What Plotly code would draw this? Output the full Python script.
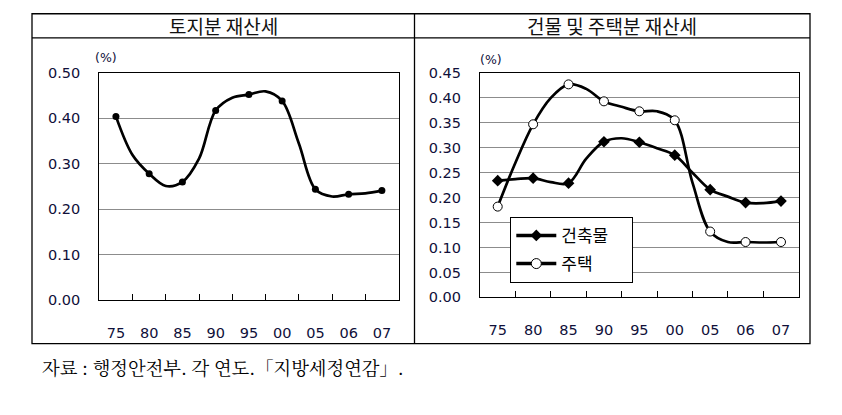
import plotly.graph_objects as go

# ---------------- data ----------------
categories = ['75', '80', '85', '90', '95', '00', '05', '06', '07']

# 토지분 재산세 (marked points at each category, smoothing points between them)
land_values = [0.404, 0.278, 0.260, 0.417, 0.452, 0.438, 0.244, 0.233, 0.241]
land_between = [0.319, 0.251, 0.311, 0.445, 0.459, 0.345, 0.228, 0.235]

# 건물 및 주택분 재산세
building_values = [0.234, 0.239, 0.229, 0.312, 0.311, 0.285, 0.216, 0.190, 0.193]
building_between = [0.237, 0.231, 0.278, 0.319, 0.299, 0.250, 0.202, 0.189]
house_values = [0.182, 0.347, 0.427, 0.393, 0.373, 0.355, 0.132, 0.111, 0.111]
house_between = [0.270, 0.400, 0.418, 0.382, 0.373, 0.230, 0.111, 0.110]

left_title = '토지분 재산세'
right_title = '건물 및 주택분 재산세'
series_names = ['건축물', '주택']
unit_label = '(%)'
source_note = '자료 : 행정안전부. 각 연도.「지방세정연감」.'

# ---------------- helpers ----------------
W, H = 842, 415
def px(x):
    return x / W
def py(y):
    return 1 - y / H

def smooth_xy(vals, mids):
    xs, ys = [], []
    for i, v in enumerate(vals):
        xs.append(i); ys.append(v)
        if i < len(mids):
            xs.append(i + 0.5); ys.append(mids[i])
    return xs, ys

idx = list(range(len(categories)))
bounds = [i + 0.5 for i in range(len(categories) - 1)]

TICK_FONT = dict(family='DejaVu Sans', size=14.5, color='#10103a')
KFONT = 'Noto Sans CJK KR'
LW = 2.7
PAD = '\u00a0' * 5  # widens the legend box

fig = go.Figure()

# left panel
lx, ly = smooth_xy(land_values, land_between)
fig.add_trace(go.Scatter(x=lx, y=ly, mode='lines', line=dict(color='black', width=LW, shape='spline', smoothing=1.0),
                         xaxis='x', yaxis='y', showlegend=False, hoverinfo='skip'))
fig.add_trace(go.Scatter(x=idx, y=land_values, mode='markers', marker=dict(symbol='circle', size=7, color='black'),
                         xaxis='x', yaxis='y', showlegend=False))

# right panel
bx, by = smooth_xy(building_values, building_between)
hx, hy = smooth_xy(house_values, house_between)
fig.add_trace(go.Scatter(x=hx, y=hy, mode='lines', line=dict(color='black', width=LW, shape='spline', smoothing=1.0),
                         xaxis='x2', yaxis='y2', showlegend=False, hoverinfo='skip'))
fig.add_trace(go.Scatter(x=bx, y=by, mode='lines', line=dict(color='black', width=LW, shape='spline', smoothing=1.0),
                         xaxis='x2', yaxis='y2', showlegend=False, hoverinfo='skip'))
fig.add_trace(go.Scatter(x=idx, y=building_values, mode='markers',
                         marker=dict(symbol='diamond', size=9, color='black'),
                         xaxis='x2', yaxis='y2', showlegend=False))
fig.add_trace(go.Scatter(x=idx, y=house_values, mode='markers',
                         marker=dict(symbol='circle', size=9, color='white', line=dict(color='black', width=1)),
                         xaxis='x2', yaxis='y2', showlegend=False))
# legend entries
fig.add_trace(go.Scatter(x=[None], y=[None], mode='lines+markers', name=series_names[0] + PAD, legendgroup='a',
                         line=dict(color='black', width=3.5), marker=dict(symbol='diamond', size=9, color='black'),
                         xaxis='x2', yaxis='y2'))
fig.add_trace(go.Scatter(x=[None], y=[None], mode='lines+markers', name=series_names[1], legendgroup='b',
                         line=dict(color='black', width=3.5),
                         marker=dict(symbol='circle', size=10, color='white', line=dict(color='black', width=1)),
                         xaxis='x2', yaxis='y2'))

# label-only overlay axes (data-free)
fig.add_trace(go.Scatter(x=[None], y=[None], xaxis='x3', yaxis='y', showlegend=False))
fig.add_trace(go.Scatter(x=[None], y=[None], xaxis='x4', yaxis='y2', showlegend=False))

xl = [px(99.3), px(398.5)]
xr = [px(480.0), px(798.7)]
yl = [py(304.0), py(67.3)]
yr = [py(301.0), py(67.5)]

base_x = dict(range=[-0.5, len(categories) - 0.5], tickmode='array', tickvals=bounds, ticks='inside', ticklen=6,
              tickcolor='black', showticklabels=False, showgrid=False, zeroline=False,
              showline=True, linecolor='black', linewidth=1.2, mirror=True, fixedrange=True)
label_x = dict(range=[-0.5, len(categories) - 0.5], tickmode='array', tickvals=idx, ticktext=categories,
               ticks='', showgrid=False, zeroline=False, showline=False, tickfont=TICK_FONT,
               ticklabelstandoff=22, fixedrange=True)
base_y = dict(tickformat='.2f', showgrid=True, gridcolor='#8c8c8c', gridwidth=1, zeroline=False,
              showline=True, linecolor='black', linewidth=1.2, mirror=True, ticks='', tickfont=TICK_FONT,
              ticklabelstandoff=15, fixedrange=True)

fig.update_layout(
    width=W, height=H, margin=dict(l=0, r=0, t=0, b=0),
    paper_bgcolor='white', plot_bgcolor='white',
    xaxis=dict(base_x, domain=xl, anchor='y'),
    xaxis3=dict(label_x, overlaying='x', anchor='y'),
    yaxis=dict(base_y, domain=yl, range=[0, 0.5], dtick=0.1, anchor='x'),
    xaxis2=dict(base_x, domain=xr, anchor='y2'),
    xaxis4=dict(label_x, overlaying='x2', anchor='y2'),
    yaxis2=dict(base_y, domain=yr, range=[0, 0.45], dtick=0.05, anchor='x2'),
    showlegend=True,
    legend=dict(x=px(510.3), y=py(217.3), xanchor='left', yanchor='top', bgcolor='white',
                bordercolor='black', borderwidth=1, traceorder='grouped', tracegroupgap=3,
                font=dict(family=KFONT, size=17, color='black'), itemwidth=40),
)

# outer frame
frame = dict(type='line', xref='paper', yref='paper', line=dict(color='black', width=1.3))
fig.add_shape(type='rect', xref='paper', yref='paper', x0=px(32), x1=px(810), y0=py(349), y1=py(6),
              line=dict(color='black', width=1.3))
fig.add_shape(frame, x0=px(414.5), x1=px(414.5), y0=py(349), y1=py(6))
fig.add_shape(frame, x0=px(32), x1=px(810), y0=py(31), y1=py(31))

fig.add_annotation(text=left_title, xref='paper', yref='paper', x=px(223.3), y=py(18.5), showarrow=False,
                   font=dict(family=KFONT, size=19, color='#111'), xanchor='center', yanchor='middle')
fig.add_annotation(text=right_title, xref='paper', yref='paper', x=px(612.3), y=py(18.5), showarrow=False,
                   font=dict(family=KFONT, size=19, color='#111'), xanchor='center', yanchor='middle')
fig.add_annotation(text=unit_label, xref='paper', yref='paper', x=px(105.5), y=py(51.7), showarrow=False,
                   font=dict(family='DejaVu Sans', size=12.5, color='#10103a'), xanchor='center', yanchor='middle')
fig.add_annotation(text=unit_label, xref='paper', yref='paper', x=px(491.0), y=py(53.5), showarrow=False,
                   font=dict(family='DejaVu Sans', size=12.5, color='#10103a'), xanchor='center', yanchor='middle')
fig.add_annotation(text=source_note, xref='paper', yref='paper', x=px(40), y=py(373), showarrow=False,
                   font=dict(family='Noto Serif CJK KR, Noto Sans CJK KR', size=18.3, color='black'),
                   xanchor='left', yanchor='middle')

fig.write_html('out.html', config={'displayModeBar': False},
               post_script="document.body.style.margin='0';document.body.style.padding='0';")
